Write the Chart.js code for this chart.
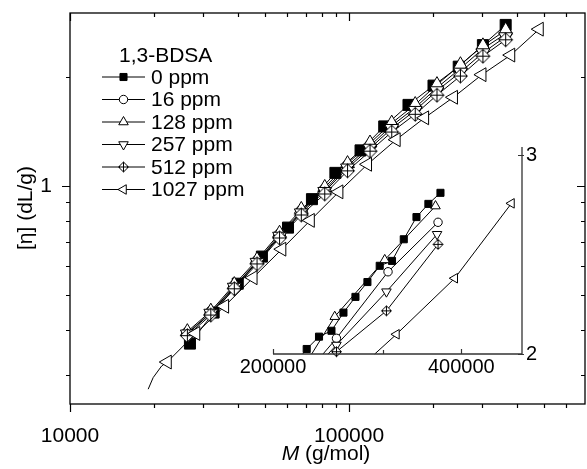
<!DOCTYPE html>
<html>
<head>
<meta charset="utf-8">
<script src="https://cdn.jsdelivr.net/npm/chart.js@4.4.0/dist/chart.umd.min.js"></script>
<style>
  html, body { margin: 0; padding: 0; background: #fff; }
  #wrap { position: relative; width: 587px; height: 469px; }
  #wrap canvas { position: absolute; left: 0; top: 0; }
</style>
</head>
<body>
<div id="wrap">
  <canvas id="main" width="587" height="469"></canvas>
  <canvas id="inset" width="587" height="469"></canvas>
</div>
<script>
// legend
const legendTitle = '1,3-BDSA';
const seriesNames = ['0 ppm', '16 ppm', '128 ppm', '257 ppm', '512 ppm', '1027 ppm'];

// main plot, M (g/mol) and [eta] (dL/g)
const mainM0 = [26900, 32700, 39900, 48700, 60400, 73600, 89300, 109900, 133600, 163200, 200600, 247000, 301500, 363800];
const mainEta0 = [0.367, 0.447, 0.537, 0.638, 0.767, 0.919, 1.086, 1.253, 1.459, 1.673, 1.891, 2.133, 2.446, 2.781];
const mainM = [26330, 31950, 38780, 46790, 56330, 67400, 81780, 98700, 118800, 142100, 172500, 206400, 250500, 301600, 363800];
const mainEta16 = [0.392, 0.447, 0.528, 0.618, 0.732, 0.85, 0.975, 1.135, 1.29, 1.465, 1.645, 1.865, 2.11, 2.39, 2.63];
const mainEta128 = [0.396, 0.451, 0.534, 0.625, 0.740, 0.861, 0.990, 1.152, 1.313, 1.490, 1.677, 1.903, 2.160, 2.435, 2.690];
const mainEta257 = [0.39, 0.445, 0.525, 0.615, 0.726, 0.842, 0.965, 1.12, 1.27, 1.44, 1.615, 1.83, 2.06, 2.33, 2.58];
const mainEta512 = [0.386, 0.44, 0.52, 0.609, 0.718, 0.831, 0.950, 1.100, 1.247, 1.408, 1.576, 1.780, 2.01, 2.28, 2.53];
// first three values of 1027 ppm are the line tail without markers
const mainM1027 = [19060, 19860, 21290, 22310, 28220, 35800, 45270, 57400, 72600, 91900, 116400, 147400, 186400, 236500, 299200, 379300, 479900];
const mainEta1027 = [0.2747, 0.2957, 0.3182, 0.3264, 0.3914, 0.4653, 0.5577, 0.6687, 0.803, 0.9627, 1.147, 1.341, 1.541, 1.756, 2.027, 2.296, 2.707];

// inset, first value of each series is where the line meets the bottom axis
const insetM0 = [223100, 226400, 236900, 248000, 259200, 270900, 283100, 296200, 309900, 323600, 339100, 354300, 370400];
const insetEta0 = [2.0, 2.0205, 2.072, 2.097, 2.176, 2.247, 2.316, 2.394, 2.418, 2.527, 2.644, 2.716, 2.778];
const insetM16 = [240400, 252600, 305400, 367100];
const insetEta16 = [2.0, 2.065, 2.365, 2.616];
const insetM128 = [230600, 251000, 301700, 363700];
const insetEta128 = [2.0, 2.158, 2.423, 2.704];
const insetM257 = [244900, 252600, 303600, 365800];
const insetEta257 = [2.0, 2.037, 2.271, 2.553];
const insetM512 = [250100, 252600, 303600, 367100];
const insetEta512 = [2.0, 2.0094, 2.184, 2.501];
const insetM1027 = [290800, 315000, 390400, 481000];
const insetEta1027 = [2.0, 2.082, 2.334, 2.719];

// ticks
const xTickLabels = [10000, 100000];
const xMinorTicks = [20000, 30000, 40000, 50000, 60000, 70000, 80000, 90000, 200000, 300000, 400000, 500000, 600000];
const yTickLabels = [1];
const yMinorTicks = [0.3, 0.4, 0.5, 0.6, 0.7, 0.8, 0.9, 2];
const insetXTickLabels = [200000, 400000];
const insetXMinorTicks = [300000];
const insetYTickLabels = [2, 3];

const FONT = '"Liberation Sans", Arial, Helvetica, sans-serif';
Chart.defaults.font.family = FONT;
Chart.defaults.font.size = 21;
Chart.defaults.color = '#000';

function crossDiamond(h) {
  const s = Math.ceil(h * 2 + 3);
  const c = document.createElement('canvas');
  c.width = s; c.height = s;
  const g = c.getContext('2d');
  const m = s / 2;
  g.lineWidth = 1;
  g.strokeStyle = '#000';
  g.beginPath();
  g.moveTo(m, m - h); g.lineTo(m + h, m); g.lineTo(m, m + h); g.lineTo(m - h, m);
  g.closePath();
  g.fillStyle = '#fff';
  g.fill();
  g.stroke();
  g.beginPath();
  g.moveTo(m, m - h); g.lineTo(m, m + h);
  g.moveTo(m - h, m); g.lineTo(m + h, m);
  g.stroke();
  return c;
}

// marker look per series: [style, rotation, filled]
const markerStyles = [
  ['rect', 0, true],
  ['circle', 0, false],
  ['triangle', 0, false],
  ['triangle', 180, false],
  ['diamond', 0, false],
  ['triangle', 270, false]
];
const bigSize = [7.8, 5.8, 8, 8, 7, 8];
const smallSize = [5, 4.2, 5.5, 5.5, 5, 5.5];
const bigDiamond = crossDiamond(7);
const smallDiamond = crossDiamond(5);

function pts(xs, ys) {
  return xs.map((x, i) => ({ x: x, y: ys[i] }));
}

function makeSet(i, data, sizes, diamond, hiddenFirst) {
  const st = markerStyles[i];
  const r = sizes[i];
  const radius = data.map((d, k) => (k < hiddenFirst ? 0 : r));
  return {
    label: seriesNames[i],
    data: data,
    borderColor: '#000',
    borderWidth: 1,
    tension: 0,
    fill: false,
    pointStyle: st[0] === 'diamond' ? diamond : st[0],
    pointRotation: st[1],
    pointRadius: radius,
    pointHoverRadius: radius,
    pointBorderWidth: 1,
    pointBorderColor: '#000',
    pointBackgroundColor: st[2] ? '#000' : '#fff',
    order: 6 - i
  };
}

const mainSets = [
  makeSet(0, pts(mainM0, mainEta0), bigSize, bigDiamond, 0),
  makeSet(1, pts(mainM, mainEta16), bigSize, bigDiamond, 0),
  makeSet(2, pts(mainM, mainEta128), bigSize, bigDiamond, 0),
  makeSet(3, pts(mainM, mainEta257), bigSize, bigDiamond, 0),
  makeSet(4, pts(mainM, mainEta512), bigSize, bigDiamond, 0),
  makeSet(5, pts(mainM1027, mainEta1027), bigSize, bigDiamond, 3)
];

const insetSets = [
  makeSet(0, pts(insetM0, insetEta0), smallSize, smallDiamond, 1),
  makeSet(1, pts(insetM16, insetEta16), smallSize, smallDiamond, 1),
  makeSet(2, pts(insetM128, insetEta128), smallSize, smallDiamond, 1),
  makeSet(3, pts(insetM257, insetEta257), smallSize, smallDiamond, 1),
  makeSet(4, pts(insetM512, insetEta512), smallSize, smallDiamond, 1),
  makeSet(5, pts(insetM1027, insetEta1027), smallSize, smallDiamond, 1)
];
insetSets.forEach(d => { d.clip = false; });

function legendMarker(ctx, i, x, y) {
  const st = markerStyles[i];
  const opts = {
    pointStyle: st[0] === 'diamond' ? smallDiamond : st[0],
    rotation: st[1],
    radius: smallSize[i],
    borderWidth: 1
  };
  ctx.save();
  ctx.fillStyle = st[2] ? '#000' : '#fff';
  ctx.strokeStyle = '#000';
  ctx.lineWidth = 1;
  if (Chart.helpers && Chart.helpers.drawPoint) {
    Chart.helpers.drawPoint(ctx, opts, x, y);
  } else if (st[0] === 'diamond') {
    ctx.drawImage(smallDiamond, x - smallDiamond.width / 2, y - smallDiamond.height / 2);
  } else {
    ctx.beginPath();
    ctx.arc(x, y, opts.radius, 0, Math.PI * 2);
    ctx.fill(); ctx.stroke();
  }
  ctx.restore();
}

// keep the plot box where the reference has it
function fitBox(size, key) {
  return s => {
    s[key] = size;
    s.paddingTop = 0; s.paddingBottom = 0; s.paddingLeft = 0; s.paddingRight = 0;
  };
}

const mainDecor = {
  id: 'mainDecor',
  afterDraw(chart) {
    const ctx = chart.ctx;
    const a = chart.chartArea;
    const xs = chart.scales.x, ys = chart.scales.y;
    ctx.save();
    ctx.strokeStyle = '#000';
    ctx.lineWidth = 1.3;
    ctx.strokeRect(a.left, a.top, a.right - a.left, a.bottom - a.top);
    ctx.lineWidth = 1.2;
    ctx.beginPath();
    const xt = xTickLabels.map(v => [v, 8]).concat(xMinorTicks.map(v => [v, 4]));
    xt.forEach(([v, len]) => {
      const px = Math.round(xs.getPixelForValue(v)) + 0.5;
      ctx.moveTo(px, a.bottom); ctx.lineTo(px, a.bottom + len);
      ctx.moveTo(px, a.top); ctx.lineTo(px, a.top + len);
    });
    const yt = yTickLabels.map(v => [v, 8]).concat(yMinorTicks.map(v => [v, 4]));
    yt.forEach(([v, len]) => {
      const py = Math.round(ys.getPixelForValue(v)) + 0.5;
      ctx.moveTo(a.left, py); ctx.lineTo(a.left - len, py);
      ctx.moveTo(a.right, py); ctx.lineTo(a.right - len, py);
    });
    ctx.stroke();

    // axis titles
    ctx.fillStyle = '#000';
    ctx.textBaseline = 'alphabetic';
    const fn = '21px ' + FONT;
    const fi = 'italic 21px ' + FONT;
    ctx.font = fi;
    const wM = ctx.measureText('M').width;
    ctx.font = fn;
    const wRest = ctx.measureText(' (g/mol)').width;
    const cx = 326;
    const x0 = cx - (wM + wRest) / 2;
    ctx.font = fi;
    ctx.fillText('M', x0, 460);
    ctx.font = fn;
    ctx.fillText(' (g/mol)', x0 + wM, 460);

    ctx.save();
    ctx.translate(32, 208);
    ctx.rotate(-Math.PI / 2);
    ctx.textAlign = 'center';
    ctx.fillText('[\u03B7] (dL/g)', 0, 0);
    ctx.restore();

    // legend
    ctx.font = fn;
    ctx.textAlign = 'left';
    ctx.textBaseline = 'middle';
    ctx.fillText(legendTitle, 119, 56);
    const rowY = [77, 99.5, 122, 144.5, 167, 189.5];
    seriesNames.forEach((name, i) => {
      const y = rowY[i];
      ctx.strokeStyle = '#000';
      ctx.lineWidth = 1;
      ctx.beginPath();
      ctx.moveTo(102, y); ctx.lineTo(145, y);
      ctx.stroke();
      legendMarker(ctx, i, 123.5, y);
      ctx.fillStyle = '#000';
      ctx.fillText(name, 151, y + 1);
    });
    ctx.restore();
  }
};

const insetDecor = {
  id: 'insetDecor',
  afterDraw(chart) {
    const ctx = chart.ctx;
    const a = chart.chartArea;
    const xs = chart.scales.x, ys = chart.scales.y;
    ctx.save();
    ctx.strokeStyle = '#333';
    ctx.lineWidth = 1.3;
    ctx.beginPath();
    ctx.moveTo(a.left, a.bottom); ctx.lineTo(a.right, a.bottom); ctx.lineTo(a.right, a.top);
    ctx.stroke();
    ctx.lineWidth = 1.2;
    ctx.beginPath();
    insetXTickLabels.map(v => [v, 5]).concat(insetXMinorTicks.map(v => [v, 4])).forEach(([v, len]) => {
      const px = Math.round(xs.getPixelForValue(v)) + 0.5;
      ctx.moveTo(px, a.bottom); ctx.lineTo(px, a.bottom - len);
    });
    insetYTickLabels.forEach(v => {
      const py = Math.round(ys.getPixelForValue(v)) + 0.5;
      ctx.moveTo(a.right + 2, py); ctx.lineTo(a.right - 4, py);
    });
    ctx.stroke();
    ctx.restore();
  }
};

new Chart(document.getElementById('main'), {
  type: 'line',
  data: { datasets: mainSets },
  options: {
    responsive: false,
    animation: false,
    devicePixelRatio: 1,
    events: [],
    layout: { autoPadding: false, padding: { top: 13, right: 2, left: 0, bottom: 0 } },
    plugins: { legend: { display: false }, tooltip: { enabled: false } },
    scales: {
      x: {
        type: 'logarithmic', min: 10000, max: 700000,
        grid: { display: false, drawTicks: false }, border: { display: false },
        afterBuildTicks: s => { s.ticks = xTickLabels.map(v => ({ value: v })); },
        afterFit: fitBox(65, 'height'),
        ticks: { autoSkip: false, maxRotation: 0, padding: 20, callback: v => String(v) }
      },
      y: {
        type: 'logarithmic', min: 0.25, max: 3,
        grid: { display: false, drawTicks: false }, border: { display: false },
        afterBuildTicks: s => { s.ticks = yTickLabels.map(v => ({ value: v })); },
        afterFit: fitBox(70, 'width'),
        ticks: { autoSkip: false, padding: 18, callback: v => String(v) }
      }
    }
  },
  plugins: [mainDecor]
});

new Chart(document.getElementById('inset'), {
  type: 'line',
  data: { datasets: insetSets },
  options: {
    responsive: false,
    animation: false,
    devicePixelRatio: 1,
    events: [],
    layout: { autoPadding: false, padding: { top: 147, right: 0, left: 273, bottom: 0 } },
    plugins: { legend: { display: false }, tooltip: { enabled: false } },
    scales: {
      x: {
        type: 'logarithmic', min: 200000, max: 500000,
        grid: { display: false, drawTicks: false }, border: { display: false },
        afterBuildTicks: s => { s.ticks = insetXTickLabels.map(v => ({ value: v })); },
        afterFit: fitBox(115, 'height'),
        ticks: { autoSkip: false, maxRotation: 0, padding: 1, font: { size: 20 }, callback: v => String(v) }
      },
      y: {
        type: 'logarithmic', position: 'right', min: 2, max: 3.05,
        grid: { display: false, drawTicks: false }, border: { display: false },
        afterBuildTicks: s => { s.ticks = insetYTickLabels.map(v => ({ value: v })); },
        afterFit: fitBox(65, 'width'),
        ticks: { autoSkip: false, padding: 4, font: { size: 20 }, callback: v => String(v) }
      }
    }
  },
  plugins: [insetDecor]
});
</script>
</body>
</html>
